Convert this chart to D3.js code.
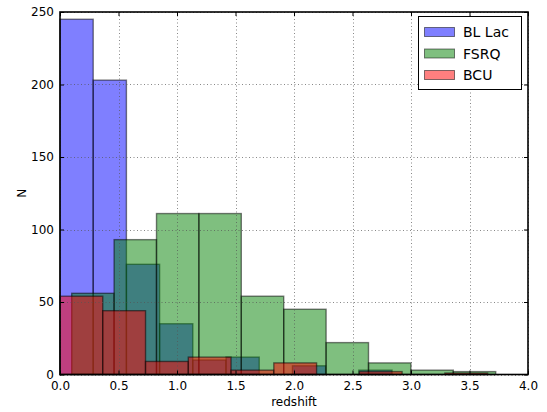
<!DOCTYPE html>
<html>
<head>
<meta charset="utf-8">
<script src="https://cdn.jsdelivr.net/npm/d3@7"></script>
<style>
html,body{margin:0;padding:0;background:#fff;}
svg{display:block;font-family:"DejaVu Sans",sans-serif;}
</style>
</head>
<body>
<svg id="chart" width="547" height="412"></svg>
<script>
// Histogram data (10 bins per series)
const seriesNames = ["BL Lac", "FSRQ", "BCU"];
const seriesColors = ["#0000ff", "#008000", "#ff0000"];
const blLacRange = [0.0, 2.838];
const blLacCounts = [245, 203, 76, 35, 10, 12, 0, 6, 0, 3];
const fsrqRange = [0.1, 3.724];
const fsrqCounts = [56, 93, 111, 111, 54, 45, 22, 8, 3, 2];
const bcuRange = [0.0, 3.655];
const bcuCounts = [54, 44, 9, 12, 3, 8, 0, 2, 0, 1];
const xTicks = [0, 0.5, 1.0, 1.5, 2.0, 2.5, 3.0, 3.5, 4.0];
const yTicks = [0, 50, 100, 150, 200, 250];

const svg = d3.select("#chart");
const L = 60, R = 528, T = 12, B = 374.5;
const x = d3.scaleLinear().domain([0, 4]).range([L, R]);
const y = d3.scaleLinear().domain([0, 250]).range([B, T]);

function binsOf(range, counts) {
  const n = counts.length, w = (range[1] - range[0]) / n;
  return counts.map((c, i) => ({x0: range[0] + i * w, x1: range[0] + (i + 1) * w, n: c}));
}
const series = [
  {name: seriesNames[0], color: seriesColors[0], bins: binsOf(blLacRange, blLacCounts)},
  {name: seriesNames[1], color: seriesColors[1], bins: binsOf(fsrqRange, fsrqCounts)},
  {name: seriesNames[2], color: seriesColors[2], bins: binsOf(bcuRange, bcuCounts)}
];

const plot = svg.append("g");
series.forEach(s => {
  plot.append("g").selectAll("rect").data(s.bins).join("rect")
    .attr("x", d => x(d.x0))
    .attr("width", d => x(d.x1) - x(d.x0))
    .attr("y", d => y(d.n))
    .attr("height", d => y(0) - y(d.n))
    .attr("fill", s.color).attr("fill-opacity", 0.5)
    .attr("stroke", "#000").attr("stroke-opacity", 0.5).attr("stroke-width", 1.4);
});

// grid
const grid = svg.append("g").attr("stroke", "#555").attr("stroke-width", 0.7)
  .attr("stroke-dasharray", "1,2.5");
xTicks.forEach(t => grid.append("line").attr("x1", Math.round(x(t)) + 0.5).attr("x2", Math.round(x(t)) + 0.5).attr("y1", T).attr("y2", B));
yTicks.forEach(t => grid.append("line").attr("y1", Math.round(y(t)) + 0.5).attr("y2", Math.round(y(t)) + 0.5).attr("x1", L).attr("x2", R));

// axes (ticks inside, both sides)
const tl = 4;
const xb = svg.append("g").attr("transform", `translate(0,${B})`)
  .call(d3.axisBottom(x).tickValues(xTicks).tickFormat(d3.format(".1f")).tickSizeInner(-tl).tickSizeOuter(0).tickPadding(7));
const xt = svg.append("g").attr("transform", `translate(0,${T})`)
  .call(d3.axisTop(x).tickValues(xTicks).tickFormat("").tickSizeInner(-tl).tickSizeOuter(0));
const yl = svg.append("g").attr("transform", `translate(${L},0)`)
  .call(d3.axisLeft(y).tickValues(yTicks).tickFormat(d3.format("d")).tickSizeInner(-tl).tickSizeOuter(0).tickPadding(6));
const yr = svg.append("g").attr("transform", `translate(${R},0)`)
  .call(d3.axisRight(y).tickValues(yTicks).tickFormat("").tickSizeInner(-tl).tickSizeOuter(0));
[xb, xt, yl, yr].forEach(g => {
  g.select(".domain").remove();
  g.selectAll(".tick line").attr("stroke", "#000").attr("stroke-width", 1);
  g.selectAll(".tick text").attr("font-size", 12).attr("fill", "#000").attr("font-family", "DejaVu Sans");
});

// frame
svg.append("rect").attr("x", L).attr("y", T).attr("width", R - L).attr("height", B - T)
  .attr("fill", "none").attr("stroke", "#000").attr("stroke-width", 1.6);

// axis labels
svg.append("text").attr("x", (L + R) / 2).attr("y", 406).attr("text-anchor", "middle")
  .attr("font-size", 12).text("redshift");
svg.append("text").attr("transform", `translate(26,${(T + B) / 2}) rotate(-90)`)
  .attr("text-anchor", "middle").attr("font-size", 12).text("N");

// legend
const lg = svg.append("g");
lg.append("rect").attr("x", 418.5).attr("y", 16.5).attr("width", 103).attr("height", 73)
  .attr("fill", "#fff").attr("stroke", "#000").attr("stroke-width", 1);
series.forEach((s, i) => {
  const cy = 32 + i * 21.5;
  lg.append("rect").attr("x", 424.5).attr("y", cy - 4.5).attr("width", 30).attr("height", 9)
    .attr("fill", s.color).attr("fill-opacity", 0.5)
    .attr("stroke", "#000").attr("stroke-opacity", 0.5).attr("stroke-width", 1);
  lg.append("text").attr("x", 463).attr("y", cy + 5).attr("font-size", 14).text(s.name);
});
</script>
</body>
</html>
